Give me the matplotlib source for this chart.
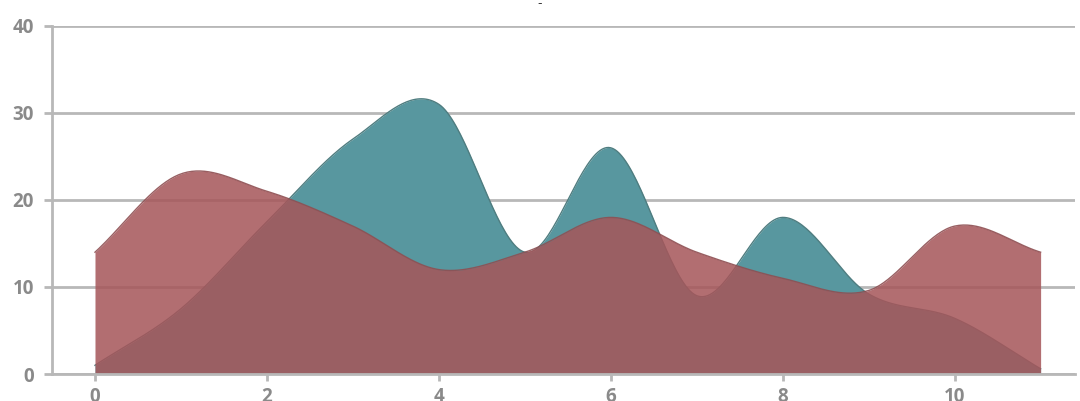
import numpy as np
import matplotlib
matplotlib.use("Agg")
import matplotlib.pyplot as plt

x_vals = [0, 1, 2, 3, 4, 5, 6, 7, 8, 9, 10, 11]
teal_vals = [1, 7.5, 17.5, 27, 31, 14, 26, 9, 18, 9.2, 6.4, 0.6]
red_vals = [14, 23, 21, 17, 12, 14, 18, 14, 11, 9.6, 17, 14]
y_ticks = [0, 10, 20, 30, 40]
x_ticks = [0, 2, 4, 6, 8, 10]


def catmull_rom(xs, ys, n=40):
    xs = np.asarray(xs, float)
    ys = np.asarray(ys, float)
    m = np.zeros_like(ys)
    m[1:-1] = (ys[2:] - ys[:-2]) / (xs[2:] - xs[:-2])
    m[0] = (ys[1] - ys[0]) / (xs[1] - xs[0])
    m[-1] = (ys[-1] - ys[-2]) / (xs[-1] - xs[-2])
    ox, oy = [], []
    for i in range(len(xs) - 1):
        h = xs[i + 1] - xs[i]
        t = np.linspace(0, 1, n, endpoint=False)
        h00 = 2 * t**3 - 3 * t**2 + 1
        h10 = t**3 - 2 * t**2 + t
        h01 = -2 * t**3 + 3 * t**2
        h11 = t**3 - t**2
        ox.append(xs[i] + t * h)
        oy.append(h00 * ys[i] + h10 * h * m[i] + h01 * ys[i + 1] + h11 * h * m[i + 1])
    ox.append([xs[-1]])
    oy.append([ys[-1]])
    return np.concatenate(ox), np.concatenate(oy)


fig = plt.figure(figsize=(10.8, 4.01), dpi=100)
ax = fig.add_axes([52 / 1080, 27 / 401, (1075 - 52) / 1080, (374 - 26) / 401])

grid_c = "#b8b8b8"
for yv in y_ticks:
    ax.axhline(yv, color=grid_c, lw=2.0, zorder=1)

tx, ty = catmull_rom(x_vals, teal_vals)
rx, ry = catmull_rom(x_vals, red_vals)

ax.fill_between(tx, 0, ty, color="#58979f", alpha=1.0, lw=0, zorder=2)
ax.plot(tx, ty, color="#4f7d80", lw=1.0, zorder=2.5)
ax.fill_between(rx, 0, ry, color="#a6565a", alpha=0.86, lw=0, zorder=3)
ax.plot(rx, ry, color="#8e4f52", lw=1.0, alpha=0.9, zorder=3.5)

ax.set_xlim(-0.5, 11.4)
ax.set_ylim(0, 40)
ax.set_yticks(y_ticks)
ax.set_xticks(x_ticks)

for s in ["top", "right"]:
    ax.spines[s].set_visible(False)
ax.spines["left"].set_color(grid_c)
ax.spines["left"].set_linewidth(2.0)
ax.spines["bottom"].set_color(grid_c)
ax.spines["bottom"].set_linewidth(2.0)
ax.spines["bottom"].set_zorder(4)

ax.tick_params(axis="y", length=6, width=2, color=grid_c, pad=7)
ax.tick_params(axis="x", length=5, width=2, color=grid_c, pad=4)
for lab in ax.get_xticklabels() + ax.get_yticklabels():
    lab.set_fontfamily("Open Sans")
    lab.set_fontweight("bold")
    lab.set_fontsize(13.5)
    lab.set_color("#8a8a8a")

fig.text(540 / 1080, 1 - 4 / 401, "-", ha="center", va="center", fontsize=9, color="#333333")

fig.savefig("out.png", dpi=100)
